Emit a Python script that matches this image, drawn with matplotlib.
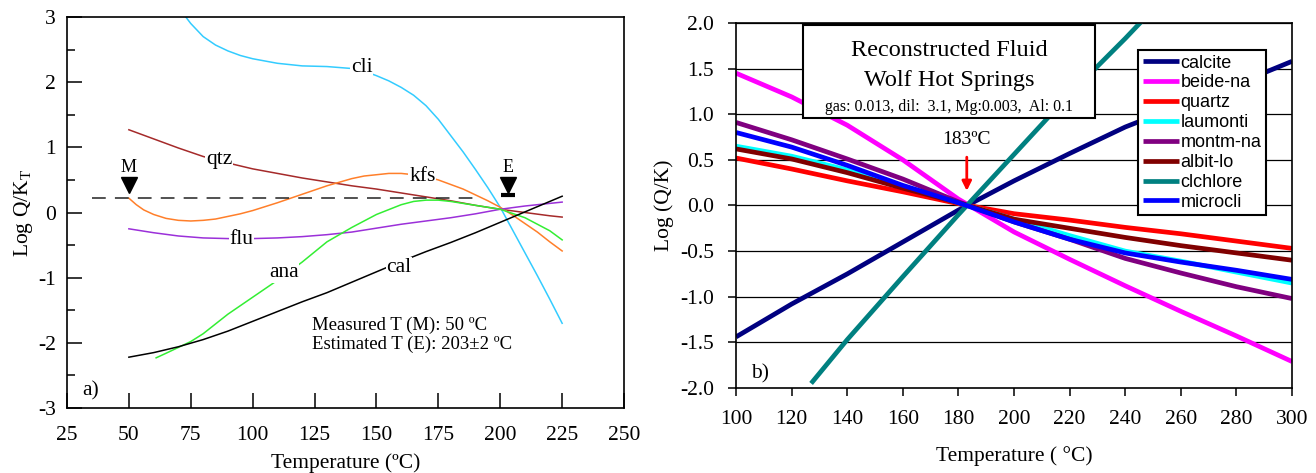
import matplotlib
matplotlib.use("Agg")
import matplotlib.pyplot as plt
from matplotlib.patches import Rectangle
from matplotlib.ticker import FormatStrFormatter, MultipleLocator

plt.rcParams["font.family"] = ["Liberation Serif", "DejaVu Serif"]
plt.rcParams["mathtext.fontset"] = "custom"
plt.rcParams["mathtext.rm"] = "Liberation Serif"
plt.rcParams["mathtext.it"] = "Liberation Serif:italic"
plt.rcParams["axes.unicode_minus"] = False

# ---- panel a): saturation indices vs temperature ----
CLI_T = [73, 75, 80, 85, 90, 95, 100, 110, 120, 130, 140, 145, 150, 155, 160, 165, 170,
         175, 180, 185, 190, 195, 200, 205, 210, 215, 220, 225]
CLI = [3.0, 2.9, 2.70, 2.57, 2.48, 2.41, 2.36, 2.29, 2.25, 2.24, 2.21, 2.17, 2.10, 2.02,
       1.92, 1.80, 1.64, 1.43, 1.18, 0.93, 0.66, 0.38, 0.08, -0.27, -0.62, -0.97, -1.33, -1.70]

QTZ_T = [50, 60, 70, 80, 90, 100, 110, 120, 130, 140, 150, 160, 170, 180, 190, 200, 210, 220, 225]
QTZ = [1.27, 1.13, 0.99, 0.86, 0.76, 0.67, 0.60, 0.53, 0.47, 0.41, 0.36, 0.30, 0.24, 0.18,
       0.11, 0.05, 0.0, -0.05, -0.07]

KFS_T = [50, 53, 56, 60, 65, 70, 75, 80, 85, 90, 95, 100, 110, 120, 130, 140, 145, 150, 155,
         160, 165, 170, 175, 180, 185, 190, 195, 200, 205, 210, 215, 220, 225]
KFS = [0.22, 0.12, 0.04, -0.03, -0.09, -0.12, -0.13, -0.12, -0.10, -0.06, -0.02, 0.03, 0.15,
       0.28, 0.41, 0.52, 0.56, 0.58, 0.60, 0.60, 0.58, 0.55, 0.50, 0.43, 0.36, 0.27, 0.18,
       0.08, -0.04, -0.17, -0.30, -0.45, -0.59]

FLU_T = [50, 60, 70, 80, 90, 100, 110, 120, 130, 140, 150, 160, 170, 180, 190, 200, 210, 220, 225]
FLU = [-0.25, -0.31, -0.36, -0.39, -0.40, -0.40, -0.39, -0.37, -0.34, -0.30, -0.24, -0.18,
       -0.13, -0.08, -0.02, 0.05, 0.10, 0.14, 0.16]

ANA_T = [61, 65, 70, 75, 80, 90, 100, 110, 120, 130, 140, 150, 160, 165, 170, 175, 180, 190,
         200, 210, 220, 225]
ANA = [-2.23, -2.16, -2.07, -1.98, -1.86, -1.56, -1.30, -1.04, -0.76, -0.45, -0.23, -0.03,
       0.12, 0.17, 0.19, 0.19, 0.17, 0.11, 0.05, -0.08, -0.28, -0.42]

CAL_T = [50, 60, 70, 80, 90, 100, 110, 120, 130, 140, 150, 160, 170, 180, 190, 200, 210, 220, 225]
CAL = [-2.22, -2.15, -2.06, -1.95, -1.82, -1.67, -1.52, -1.37, -1.23, -1.07, -0.91, -0.75,
       -0.60, -0.46, -0.31, -0.15, 0.01, 0.17, 0.25]

REF_LEVEL = 0.22          # dashed line
REF_SPAN = [35, 190]
T_MEASURED = 50
T_ESTIMATED = 203

# ---- panel b): reconstructed fluid, Wolf Hot Springs ----
TB = [100, 120, 140, 160, 180, 200, 220, 240, 260, 280, 300]
CALCITE = [-1.44, -1.08, -0.75, -0.40, -0.05, 0.27, 0.57, 0.86, 1.10, 1.33, 1.58]
BEIDE_NA = [1.45, 1.19, 0.88, 0.50, 0.07, -0.29, -0.59, -0.88, -1.16, -1.43, -1.71]
QUARTZ = [0.52, 0.40, 0.27, 0.15, 0.02, -0.09, -0.16, -0.24, -0.31, -0.39, -0.47]
LAUMONTI = [0.65, 0.54, 0.39, 0.21, 0.03, -0.15, -0.33, -0.50, -0.61, -0.73, -0.85]
MONTM_NA = [0.91, 0.72, 0.51, 0.29, 0.04, -0.18, -0.37, -0.58, -0.74, -0.89, -1.02]
ALBIT_LO = [0.62, 0.51, 0.36, 0.19, 0.03, -0.15, -0.25, -0.35, -0.44, -0.52, -0.60]
MICROCLI = [0.80, 0.64, 0.44, 0.22, 0.03, -0.18, -0.37, -0.52, -0.62, -0.71, -0.81]
CLCHLORE_T = [127, 140, 160, 180, 200, 220, 240, 250]
CLCHLORE = [-1.95, -1.47, -0.78, -0.10, 0.56, 1.22, 1.83, 2.15]
T_EQ = 183

fig = plt.figure(figsize=(13.16, 4.73), dpi=100)

# ================= panel a =================
ax = fig.add_axes([0.0509, 0.1374, 0.4233, 0.8266])
lw = 1.1
ax.plot(CLI_T, CLI, color="#33ccff", lw=lw)
ax.plot(QTZ_T, QTZ, color="#a52a2a", lw=lw)
ax.plot(KFS_T, KFS, color="#ff7f2a", lw=lw)
ax.plot(FLU_T, FLU, color="#9b30d9", lw=lw)
ax.plot(ANA_T, ANA, color="#33ee33", lw=lw)
ax.plot(CAL_T, CAL, color="black", lw=lw)
ax.plot(REF_SPAN, [REF_LEVEL, REF_LEVEL], color="#222222", lw=1.1, dashes=(9, 6))

lab = dict(fontsize=15.5, ha="center", va="center",
           bbox=dict(facecolor="white", edgecolor="none", pad=0.5))
ax.text(144, 2.23, "cli", **lab)
ax.text(86.5, 0.81, "qtz", **lab)
ax.text(168.5, 0.55, "kfs", **lab)
ax.text(95.5, -0.42, "flu", **lab)
ax.text(112.5, -0.92, "ana", **lab)
ax.text(159, -0.84, "cal", **lab)

ax.plot([T_MEASURED], [0.42], marker="v", color="black", ms=11, ls="none")
ax.text(T_MEASURED, 0.69, "M", fontsize=13, ha="center", va="center")
ax.plot([T_ESTIMATED], [0.42], marker="v", color="black", ms=11, ls="none")
ax.plot([T_ESTIMATED], [0.27], marker="_", color="black", ms=10, mew=3, ls="none")
ax.text(T_ESTIMATED, 0.69, "E", fontsize=13, ha="center", va="center")

ax.text(124, -1.73, "Measured T (M): 50 ºC", fontsize=13.5, ha="left", va="center")
ax.text(124, -2.03, "Estimated T (E): 203±2 ºC", fontsize=13.5, ha="left", va="center")
ax.text(34.5, -2.74, "a)", fontsize=15.5, ha="center", va="center")

ax.set_xlim(25, 250)
ax.set_ylim(-3, 3)
ax.xaxis.set_major_locator(MultipleLocator(25))
ax.yaxis.set_major_locator(MultipleLocator(1))
ax.yaxis.set_minor_locator(MultipleLocator(0.5))
ax.tick_params(which="major", direction="in", length=10.5, width=1.1, labelsize=15.5, pad=8)
ax.tick_params(which="minor", direction="in", length=6, width=1.1)
ax.tick_params(axis="x", pad=13)
for s in ax.spines.values():
    s.set_linewidth(1.2)
ax.set_xlabel("Temperature (ºC)", fontsize=15.5, labelpad=6)
ax.set_ylabel("Log Q/K$_{\\rm T}$", fontsize=15.5, labelpad=2)

# ================= panel b =================
bx = fig.add_axes([0.5593, 0.1797, 0.4225, 0.7717])
bx.set_xlim(100, 300)
bx.set_ylim(-2, 2)
for y in [-1.5, -1.0, -0.5, 0.0, 0.5, 1.0, 1.5, 2.0]:
    bx.axhline(y, color="black", lw=0.9, zorder=1)

blw = 3.4
series = [
    ("calcite", TB, CALCITE, "#000080"),
    ("beide-na", TB, BEIDE_NA, "#ff00ff"),
    ("quartz", TB, QUARTZ, "#ff0000"),
    ("laumonti", TB, LAUMONTI, "#00ffff"),
    ("montm-na", TB, MONTM_NA, "#800080"),
    ("albit-lo", TB, ALBIT_LO, "#800000"),
    ("clchlore", CLCHLORE_T, CLCHLORE, "#008080"),
    ("microcli", TB, MICROCLI, "#0000ff"),
]
for name, xs, ys, c in series:
    bx.plot(xs, ys, color=c, lw=blw, label=name, zorder=3, solid_capstyle="butt")

leg = bx.legend(loc="upper left", bbox_to_anchor=(0.723, 0.926), fancybox=False,
                framealpha=1, edgecolor="black", borderpad=0.25, labelspacing=0.16,
                handlelength=2.0, handletextpad=0.1, borderaxespad=0,
                prop={"family": "Liberation Sans", "size": 13})
leg.get_frame().set_linewidth(1.5)
leg.set_zorder(6)

bx.annotate("", xy=(T_EQ, 0.13), xytext=(T_EQ, 0.56),
            arrowprops=dict(arrowstyle="-|>", color="red", lw=2, mutation_scale=14), zorder=5)
bx.text(T_EQ, 0.72, "183ºC", fontsize=14, ha="center", va="center", zorder=5)
bx.text(108.6, -1.84, "b)", fontsize=15.5, ha="center", va="center")

# title box
bx.add_patch(Rectangle((0.121, 0.74), 0.525, 0.255, transform=bx.transAxes,
                       facecolor="white", edgecolor="black", lw=1.5, zorder=5))
bx.text(0.3835, 0.925, "Reconstructed Fluid", transform=bx.transAxes, fontsize=17.5,
        ha="center", va="center", zorder=6)
bx.text(0.3835, 0.843, "Wolf Hot Springs", transform=bx.transAxes, fontsize=17.5,
        ha="center", va="center", zorder=6)
bx.text(0.3835, 0.77, "gas: 0.013, dil:  3.1, Mg:0.003,  Al: 0.1", transform=bx.transAxes,
        fontsize=11.5, ha="center", va="center", zorder=6)

bx.xaxis.set_major_locator(MultipleLocator(20))
bx.yaxis.set_major_locator(MultipleLocator(0.5))
bx.yaxis.set_major_formatter(FormatStrFormatter("%.1f"))
bx.tick_params(direction="out", length=6, width=1.1, labelsize=15.5, pad=10)
for s in bx.spines.values():
    s.set_linewidth(1.2)
    s.set_zorder(4)
bx.set_xlabel("Temperature ( °C)", fontsize=15.5, labelpad=12)
bx.set_ylabel("Log (Q/K)", fontsize=15.5, labelpad=4)

fig.savefig("out.png", dpi=100)
